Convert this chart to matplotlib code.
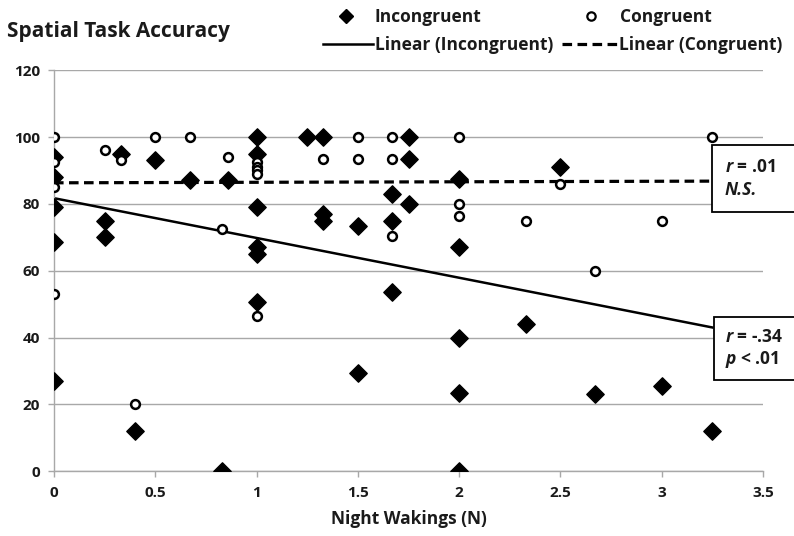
import numpy as np
import matplotlib
matplotlib.use("Agg")
from matplotlib import pyplot as plt
from matplotlib.lines import Line2D
from matplotlib.patches import Rectangle

plt.rcParams['font.family'] = ['Open Sans', 'DejaVu Sans']
plt.rcParams['font.weight'] = 'bold'
plt.rcParams['mathtext.fontset'] = 'custom'
plt.rcParams['mathtext.bfit'] = 'Open Sans:italic:bold'

# incongruent trials (filled diamonds)
inc_x = [0, 0, 0, 0, 0, 0.25, 0.25, 0.33, 0.4, 0.5, 0.67, 0.83, 0.86,
         1, 1, 1, 1, 1, 1, 1.25, 1.33, 1.33, 1.33, 1.5, 1.5,
         1.67, 1.67, 1.67, 1.75, 1.75, 1.75, 2, 2, 2, 2, 2,
         2.33, 2.5, 2.67, 3, 3.25]
inc_y = [94, 88, 79, 68.5, 27, 75, 70, 95, 12, 93, 87, 0, 87,
         100, 95, 79, 67, 65, 50.5, 100, 100, 77, 75, 73.5, 29.5,
         83, 75, 53.5, 100, 93.5, 80, 87.5, 67, 40, 23.5, 0,
         44, 91, 23, 25.5, 12]

# congruent trials (open circles)
con_x = [0, 0, 0, 0, 0.25, 0.33, 0.4, 0.5, 0.67, 0.83, 0.86,
         1, 1, 1, 1, 1, 1.33, 1.5, 1.5, 1.67, 1.67, 1.67,
         2, 2, 2, 2.33, 2.5, 2.67, 3, 3.25]
con_y = [100, 92.5, 85, 53, 96, 93, 20, 100, 100, 72.5, 94,
         92.5, 91, 90, 89, 46.5, 93.5, 100, 93.5, 100, 93.5, 70.5,
         100, 80, 76.5, 75, 86, 60, 75, 100]

# linear trend lines (values read at x = 0 and x = 3.25)
trend_x = [0, 3.25]
trend_inc = [81.7, 43.0]
trend_con = [86.3, 86.8]

TXT = '#1a1a1a'
DASH = (0, (3.0, 1.7))

fig = plt.figure(figsize=(7.94, 5.36), dpi=100)
ax = fig.add_axes([0.068, 0.121, 0.893, 0.748])

ax.scatter(inc_x, inc_y, marker='D', s=78, color='black', zorder=3)
ax.scatter(con_x, con_y, marker='o', s=40, facecolor='white',
           edgecolor='black', linewidth=1.8, zorder=3)

ax.plot(trend_x, trend_inc, color='black', lw=1.8, zorder=2)
ax.plot(trend_x, trend_con, color='black', lw=2.3, ls=DASH, zorder=2)

ax.set_xlim(0, 3.5)
ax.set_ylim(0, 120)
ax.set_xticks(np.arange(0, 3.51, 0.5))
ax.set_xticklabels(['0', '0.5', '1', '1.5', '2', '2.5', '3', '3.5'])
ax.set_yticks(np.arange(0, 121, 20))
ax.yaxis.grid(True, color='#a8a8a8', lw=1)
ax.set_axisbelow(True)
for s in ['top', 'right']:
    ax.spines[s].set_visible(False)
for s in ['left', 'bottom']:
    ax.spines[s].set_color('#a8a8a8')
    ax.spines[s].set_linewidth(1)
ax.tick_params(axis='both', colors='#a8a8a8', labelcolor=TXT,
               labelsize=11, length=4, width=1)
ax.tick_params(axis='x', pad=7)
ax.tick_params(axis='y', pad=6)
ax.set_xlabel('Night Wakings (N)', fontsize=12.5, fontweight='bold',
              color=TXT, labelpad=7)

fig.text(0.009, 1 - 32 / 536, 'Spatial Task Accuracy', fontsize=15,
         fontweight='bold', color=TXT, va='center')


# legend: one entry at a time, placed like the original (pixel positions)
def entry(handle, label, x_px, y_px, hl, pad):
    leg = fig.legend([handle], [label], loc='center left',
                     bbox_to_anchor=(x_px / 794, 1 - y_px / 536),
                     frameon=False, fontsize=12.5, handlelength=hl,
                     handletextpad=pad, borderpad=0, borderaxespad=0,
                     labelcolor=TXT)
    return leg


entry(Line2D([], [], marker='D', color='black', ls='none', markersize=7.5),
      'Incongruent', 331.5, 17, 1.66, 0.84)
entry(Line2D([], [], marker='o', color='black', mfc='white', mew=1.6,
             ls='none', markersize=6), 'Congruent', 576.5, 17, 1.66, 0.84)
entry(Line2D([], [], color='black', lw=1.8), 'Linear (Incongruent)',
      323, 45, 2.88, 0.1)
entry(Line2D([], [], color='black', lw=2.3, ls=DASH), 'Linear (Congruent)',
      562, 45, 3.2, 0.1)

# annotation boxes (run off the right edge like the original)
ax.add_patch(Rectangle((3.248, 77.6), 0.5, 19.9, transform=ax.transData,
                       facecolor='white', edgecolor='black', lw=1.3,
                       clip_on=False, zorder=4))
ax.add_patch(Rectangle((3.258, 27.4), 0.5, 18.8, transform=ax.transData,
                       facecolor='white', edgecolor='black', lw=1.3,
                       clip_on=False, zorder=4))
ax.text(3.31, 91.1, '$\\mathbfit{r}$ = .01', fontsize=12.5, va='center',
        ha='left', color=TXT, zorder=5, clip_on=False)
ax.text(3.31, 84.2, 'N.S.', fontsize=12.5, va='center', style='italic',
        ha='left', color=TXT, zorder=5, clip_on=False)
ax.text(3.31, 40.2, '$\\mathbfit{r}$ = -.34', fontsize=12.5, va='center',
        ha='left', color=TXT, zorder=5, clip_on=False)
ax.text(3.31, 33.4, '$\\mathbfit{p}$ < .01', fontsize=12.5, va='center',
        ha='left', color=TXT, zorder=5, clip_on=False)

fig.savefig('out.png', dpi=100)
